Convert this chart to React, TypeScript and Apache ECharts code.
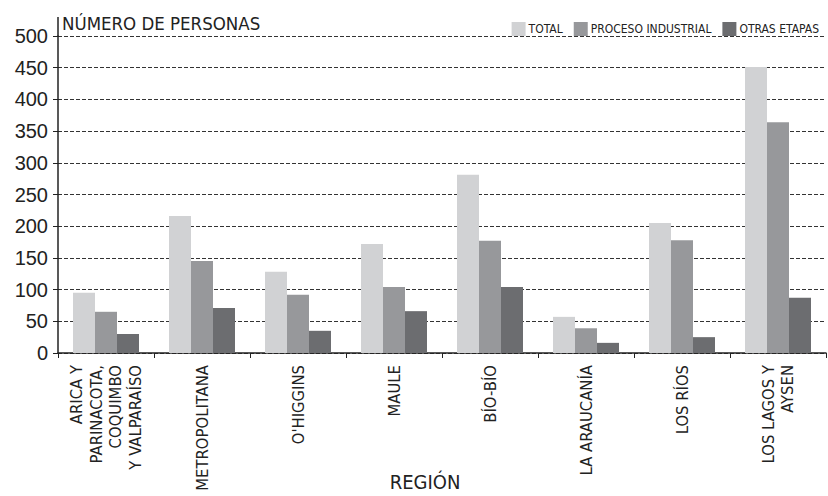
import React, { useEffect, useRef } from "react";
import * as echarts from "echarts";

const categories = [
  "ARICA Y\nPARINACOTA,\nCOQUIMBO\nY VALPARAÍSO",
  "METROPOLITANA",
  "O'HIGGINS",
  "MAULE",
  "BÍO-BÍO",
  "LA ARAUCANÍA",
  "LOS RÍOS",
  "LOS LAGOS Y\nAYSEN",
];
const totalValues = [95, 216, 128, 172, 281, 57, 205, 451];
const procesoValues = [65, 145, 92, 104, 177, 39, 178, 364];
const otrasValues = [30, 71, 35, 66, 104, 16, 25, 87];
const seriesNames = ["TOTAL", "PROCESO INDUSTRIAL", "OTRAS ETAPAS"];
const colors = ["#d1d2d4", "#97989b", "#6c6d70"];

const NARROW = "'Liberation Sans Narrow', 'DejaVu Sans Condensed', 'Roboto Condensed', 'Arial Narrow', sans-serif";
const REG = "'Liberation Sans', Arial, Helvetica, sans-serif";

export default function App() {
  const ref = useRef<HTMLDivElement>(null);
  useEffect(() => {
    if (!ref.current) return;
    const chart = echarts.init(ref.current, null, { renderer: "svg" });
    const values = [totalValues, procesoValues, otrasValues];
    chart.setOption({
      animation: false,
      backgroundColor: "#ffffff",
      grid: { left: 58, right: 2, top: 36, bottom: 143, containLabel: false, outerBoundsMode: "none" },
      legend: {
        right: 4,
        top: 17,
        icon: "rect",
        itemWidth: 14,
        itemHeight: 14,
        itemGap: 11,
        data: seriesNames,
        textStyle: { fontFamily: NARROW, fontSize: 12, color: "#222", padding: [0, 0, 0, -2] },
      },
      xAxis: {
        type: "category",
        data: categories,
        name: "REGIÓN",
        nameLocation: "middle",
        nameGap: 119,
        nameMoveOverlap: false,
        nameTextStyle: {
          fontFamily: NARROW,
          fontSize: 20,
          color: "#222",
          verticalAlign: "top",
          padding: [0, 34, 0, 0],
        },
        axisLine: { show: true, lineStyle: { color: "#222", width: 1.5 } },
        axisTick: { show: true, length: 5, alignWithLabel: false, lineStyle: { color: "#222" } },
        axisLabel: {
          rotate: 90,
          interval: 0,
          margin: 12,
          fontFamily: NARROW,
          fontSize: 16.5,
          lineHeight: 19.5,
          color: "#222",
        },
      },
      yAxis: {
        type: "value",
        min: 0,
        max: 500,
        interval: 50,
        name: "NÚMERO DE PERSONAS",
        nameLocation: "end",
        nameGap: 3,
        nameMoveOverlap: false,
        nameTextStyle: {
          fontFamily: NARROW,
          fontSize: 18.5,
          color: "#222",
          align: "left",
          padding: [0, 0, 0, 4],
        },
        axisLine: { show: true, lineStyle: { color: "#222", width: 1.5 } },
        axisTick: { show: true, length: 5, lineStyle: { color: "#222" } },
        axisLabel: { fontFamily: REG, fontSize: 20, color: "#222", margin: 10 },
        splitLine: { show: true, lineStyle: { color: "#333", width: 1, type: [4, 2] } },
      },
      graphic: [
        {
          type: "line",
          shape: { x1: 58, y1: 17, x2: 58, y2: 36 },
          style: { stroke: "#222", lineWidth: 1.5 },
        },
      ],
      series: seriesNames.map((name, i) => ({
        name,
        type: "bar",
        data: values[i],
        barWidth: 22,
        barGap: "0%",
        itemStyle: { color: colors[i] },
      })),
    });
    return () => chart.dispose();
  }, []);
  return <div ref={ref} style={{ position: "fixed", left: 0, top: 0, width: 828, height: 496 }} />;
}
